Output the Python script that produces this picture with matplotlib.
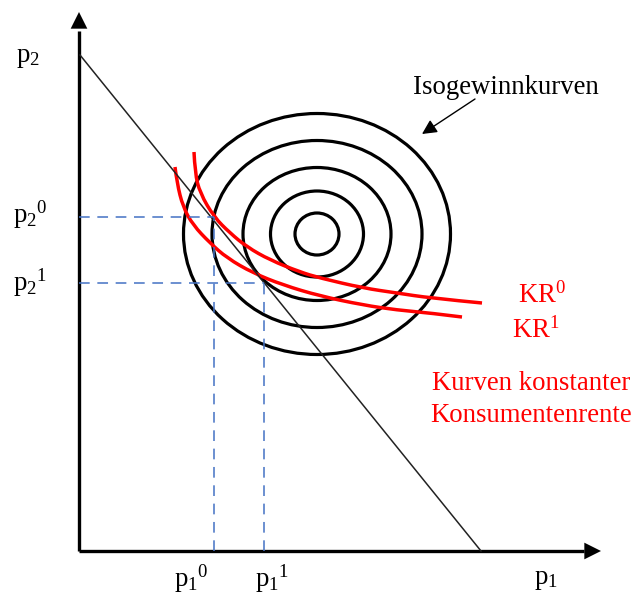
import matplotlib
matplotlib.use("Agg")
import matplotlib.pyplot as plt
from matplotlib.patches import Ellipse, FancyArrowPatch, PathPatch
from matplotlib.path import Path

plt.rcParams['font.family'] = ['Liberation Serif', 'DejaVu Serif']
plt.rcParams['mathtext.fontset'] = 'custom'
plt.rcParams['mathtext.rm'] = 'Liberation Serif'
plt.rcParams['mathtext.it'] = 'Liberation Serif:italic'

# Data (economic coordinates, origin at axes corner)
budget_line_x = [1, 402]
budget_line_y = [496, 0]

iso_center = (238, 317)
iso_rx = [22, 46.5, 74, 105, 133.5]
iso_ry = [21, 43, 66.5, 93.5, 120.5]

kr0_x = [115, 116, 121, 135, 151, 168, 191, 221, 241, 284, 318, 351, 403]
kr0_y = [399, 378, 358, 334, 318, 304, 291, 279, 273, 263, 258, 253, 248]
kr1_x = [96, 98, 104, 114, 131, 148, 174, 204, 241, 284, 318, 351, 383]
kr1_y = [384, 368, 344, 326, 308, 293, 278, 266, 255, 246, 241, 238, 234]

p1_levels = [135, 185]
p2_levels = [334, 268]
p1_labels = [r'$\mathrm{p}_1{}^0$', r'$\mathrm{p}_1{}^1$']
p2_labels = [r'$\mathrm{p}_2{}^0$', r'$\mathrm{p}_2{}^1$']


def smooth_path(xs, ys):
    pts = list(zip(xs, ys))
    verts = [pts[0]]
    codes = [Path.MOVETO]
    for i in range(1, len(pts) - 1):
        ctrl = pts[i]
        if i < len(pts) - 2:
            end = ((pts[i][0] + pts[i + 1][0]) / 2, (pts[i][1] + pts[i + 1][1]) / 2)
        else:
            end = pts[-1]
        verts += [ctrl, end]
        codes += [Path.CURVE3, Path.CURVE3]
    return Path(verts, codes)


fig = plt.figure(figsize=(6.31, 6.10), dpi=100)
ax = fig.add_axes([0, 0, 1, 1])
ax.set_xlim(-79, 552)
ax.set_ylim(-59, 551)
ax.axis('off')

# axes with arrows
ax.plot([0, 0], [0, 520], color='black', lw=2.4, solid_capstyle='butt')
ax.plot([0, 505], [0, 0], color='black', lw=2.4, solid_capstyle='butt')
ax.add_patch(FancyArrowPatch((0, 518), (0, 539), arrowstyle='-|>', mutation_scale=30,
                             color='black', lw=0, shrinkA=0, shrinkB=0))
ax.add_patch(FancyArrowPatch((503, 0), (522, 0), arrowstyle='-|>', mutation_scale=30,
                             color='black', lw=0, shrinkA=0, shrinkB=0))

# budget / diagonal line
ax.plot(budget_line_x, budget_line_y, color='#222222', lw=1.1)

# dashed guide lines
for px, py in zip(p1_levels, p2_levels):
    ax.plot([0, px], [py, py], color='#4472C4', lw=1.1, dashes=(7, 5))
    ax.plot([px, px], [0, py], color='#4472C4', lw=1.1, dashes=(7, 5))

# iso-profit ellipses
for rx, ry in zip(iso_rx, iso_ry):
    ax.add_patch(Ellipse(iso_center, 2 * rx, 2 * ry, fill=False, edgecolor='black', lw=2.3))

# red curves
ax.add_patch(PathPatch(smooth_path(kr0_x, kr0_y), fill=False, edgecolor='#FF0000', lw=2.5))
ax.add_patch(PathPatch(smooth_path(kr1_x, kr1_y), fill=False, edgecolor='#FF0000', lw=2.5))

fs = 19.3
# axis labels
ax.text(-51, 494, r'$\mathrm{p}_2$', fontsize=fs, ha='center', va='center')
ax.text(-49, 336, p2_labels[0], fontsize=fs, ha='center', va='center')
ax.text(-49, 268, p2_labels[1], fontsize=fs, ha='center', va='center')
ax.text(p1_levels[0] - 23, -28, p1_labels[0], fontsize=fs, ha='center', va='center')
ax.text(p1_levels[1] + 8, -28, p1_labels[1], fontsize=fs, ha='center', va='center')
ax.text(467, -28, r'$\mathrm{p}_1$', fontsize=fs, ha='center', va='center')

# annotations
ax.text(427, 463, 'Isogewinnkurven', fontsize=fs, ha='center', va='center')
ax.add_patch(FancyArrowPatch((396, 452), (343, 417), arrowstyle='-|>', mutation_scale=22,
                             color='black', lw=1.0, shrinkA=0, shrinkB=0))
ax.text(463, 256, r'$\mathrm{KR}^0$', fontsize=fs, ha='center', va='center', color='#FF0000')
ax.text(457, 221, r'$\mathrm{KR}^1$', fontsize=fs, ha='center', va='center', color='#FF0000')
ax.text(452, 168, 'Kurven konstanter', fontsize=fs, ha='center', va='center', color='#FF0000')
ax.text(452, 135, 'Konsumentenrente', fontsize=fs, ha='center', va='center', color='#FF0000')

fig.savefig('out.png', dpi=100)
